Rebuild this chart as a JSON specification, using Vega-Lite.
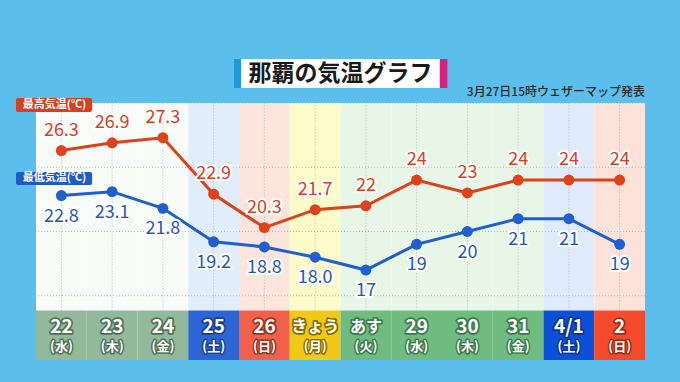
{
  "$schema": "https://vega.github.io/schema/vega-lite/v6.json",
  "width": 609,
  "height": 257,
  "autosize": {"type": "none"},
  "padding": {"left": 36, "top": 103, "right": 35, "bottom": 22},
  "background": "#5cbfeb",
  "view": {"fill": "#ffffff", "stroke": null, "cornerRadius": 6},
  "config": {
    "font": "Noto Sans CJK JP",
    "axis": {"disable": true},
    "legend": {"disable": true}
  },
  "data": {
    "values": [
      {"day": "22", "dow": "(水)", "kind": "過去平日", "hi": 26.3, "lo": 22.8, "hiLabel": "26.3", "loLabel": "22.8"},
      {"day": "23", "dow": "(木)", "kind": "過去平日", "hi": 26.9, "lo": 23.1, "hiLabel": "26.9", "loLabel": "23.1"},
      {"day": "24", "dow": "(金)", "kind": "過去平日", "hi": 27.3, "lo": 21.8, "hiLabel": "27.3", "loLabel": "21.8"},
      {"day": "25", "dow": "(土)", "kind": "過去土曜", "hi": 22.9, "lo": 19.2, "hiLabel": "22.9", "loLabel": "19.2"},
      {"day": "26", "dow": "(日)", "kind": "過去日曜", "hi": 20.3, "lo": 18.8, "hiLabel": "20.3", "loLabel": "18.8"},
      {"day": "きょう", "dow": "(月)", "kind": "今日", "hi": 21.7, "lo": 18.0, "hiLabel": "21.7", "loLabel": "18.0"},
      {"day": "あす", "dow": "(火)", "kind": "平日", "hi": 22, "lo": 17, "hiLabel": "22", "loLabel": "17"},
      {"day": "29", "dow": "(水)", "kind": "平日", "hi": 24, "lo": 19, "hiLabel": "24", "loLabel": "19"},
      {"day": "30", "dow": "(木)", "kind": "平日", "hi": 23, "lo": 20, "hiLabel": "23", "loLabel": "20"},
      {"day": "31", "dow": "(金)", "kind": "平日", "hi": 24, "lo": 21, "hiLabel": "24", "loLabel": "21"},
      {"day": "4/1", "dow": "(土)", "kind": "土曜", "hi": 24, "lo": 21, "hiLabel": "24", "loLabel": "21"},
      {"day": "2", "dow": "(日)", "kind": "日曜", "hi": 24, "lo": 19, "hiLabel": "24", "loLabel": "19"}
    ]
  },
  "resolve": {"scale": {"fill": "independent", "stroke": "independent"}},
  "layer": [
    {
      "mark": {"type": "rect"},
      "encoding": {
        "x": {"field": "day", "type": "nominal", "axis": null,
              "scale": {"type": "band", "domain": ["22", "23", "24", "25", "26", "きょう", "あす", "29", "30", "31", "4/1", "2"], "paddingInner": 0, "paddingOuter": 0}},
        "y": {"datum": 13.85, "type": "quantitative", "axis": null, "scale": {"domain": [10, 30], "zero": false, "nice": false}},
        "y2": {"datum": 30},
        "fill": {"field": "kind", "type": "nominal", "legend": null,
                 "scale": {"domain": ["過去平日", "過去土曜", "過去日曜", "今日", "平日", "土曜", "日曜"],
                           "range": ["#f8fcf8", "#e2edfb", "#fde5de", "#fefbcb", "#e8f6e8", "#dfeafb", "#fde2da"]}}
      }
    },
    {
      "mark": {"type": "rule", "strokeDash": [1, 2], "color": "#b8b8b8", "strokeWidth": 1},
      "encoding": {
        "x": {"field": "day", "type": "nominal"},
        "y": {"datum": 13.85, "type": "quantitative"},
        "y2": {"datum": 30}
      }
    },
    {
      "data": {"values": [{"level": 15}, {"level": 20}, {"level": 25}, {"level": 30}]},
      "mark": {"type": "rule", "strokeDash": [1, 2], "color": "#b8b8b8", "strokeWidth": 1},
      "encoding": {
        "y": {"field": "level", "type": "quantitative"}
      }
    },
    {
      "mark": {"type": "rect"},
      "encoding": {
        "x": {"field": "day", "type": "nominal"},
        "y": {"datum": 10, "type": "quantitative"},
        "y2": {"datum": 13.85},
        "fill": {"field": "kind", "type": "nominal", "legend": null,
                 "scale": {"domain": ["過去平日", "過去土曜", "過去日曜", "今日", "平日", "土曜", "日曜"],
                           "range": ["#93b99b", "#2e65d5", "#f1604b", "#f0c815", "#6fbb80", "#0c50d7", "#f44b2d"]}}
      }
    },
    {
      "mark": {"type": "text", "fontWeight": "bold", "strokeWidth": 3.5, "strokeJoin": "round", "baseline": "middle"},
      "encoding": {
        "x": {"field": "day", "type": "nominal"},
        "y": {"datum": 12.55, "type": "quantitative"},
        "text": {"field": "day"},
        "size": {"condition": {"test": "datum.day === 'きょう' || datum.day === 'あす'", "value": 16}, "value": 19},
        "stroke": {"field": "kind", "type": "nominal", "legend": null,
                   "scale": {"domain": ["過去平日", "過去土曜", "過去日曜", "今日", "平日", "土曜", "日曜"],
                             "range": ["#4f7257", "#1b3f8c", "#9a3325", "#8a6d00", "#3c7a4b", "#0b3391", "#a02a14"]}}
      }
    },
    {
      "mark": {"type": "text", "fontSize": 13, "fontWeight": "bold", "strokeWidth": 3, "strokeJoin": "round", "baseline": "middle"},
      "encoding": {
        "x": {"field": "day", "type": "nominal"},
        "y": {"datum": 11.0, "type": "quantitative"},
        "text": {"field": "dow"},
        "stroke": {"field": "kind", "type": "nominal", "legend": null,
                   "scale": {"domain": ["過去平日", "過去土曜", "過去日曜", "今日", "平日", "土曜", "日曜"],
                             "range": ["#4f7257", "#1b3f8c", "#9a3325", "#8a6d00", "#3c7a4b", "#0b3391", "#a02a14"]}}
      }
    },
    {
      "mark": {"type": "text", "fontWeight": "bold", "fill": "#ffffff", "baseline": "middle"},
      "encoding": {
        "x": {"field": "day", "type": "nominal"},
        "y": {"datum": 12.55, "type": "quantitative"},
        "text": {"field": "day"},
        "size": {"condition": {"test": "datum.day === 'きょう' || datum.day === 'あす'", "value": 16}, "value": 19}
      }
    },
    {
      "mark": {"type": "text", "fontSize": 13, "fontWeight": "bold", "fill": "#ffffff", "baseline": "middle"},
      "encoding": {
        "x": {"field": "day", "type": "nominal"},
        "y": {"datum": 11.0, "type": "quantitative"},
        "text": {"field": "dow"}
      }
    },
    {
      "mark": {"type": "line", "color": "#df4119", "strokeWidth": 3},
      "encoding": {
        "x": {"field": "day", "type": "nominal"},
        "y": {"field": "hi", "type": "quantitative"}
      }
    },
    {
      "mark": {"type": "line", "color": "#1f5fd0", "strokeWidth": 3},
      "encoding": {
        "x": {"field": "day", "type": "nominal"},
        "y": {"field": "lo", "type": "quantitative"}
      }
    },
    {
      "mark": {"type": "point", "filled": true, "size": 120, "color": "#df4119", "opacity": 1},
      "encoding": {
        "x": {"field": "day", "type": "nominal"},
        "y": {"field": "hi", "type": "quantitative"}
      }
    },
    {
      "mark": {"type": "point", "filled": true, "size": 120, "color": "#1f5fd0", "opacity": 1},
      "encoding": {
        "x": {"field": "day", "type": "nominal"},
        "y": {"field": "lo", "type": "quantitative"}
      }
    },
    {
      "mark": {"type": "text", "fontSize": 18, "dy": -20, "baseline": "middle", "stroke": "#ffffff", "strokeWidth": 4, "strokeJoin": "round", "fill": "#ffffff"},
      "encoding": {
        "x": {"field": "day", "type": "nominal"},
        "y": {"field": "hi", "type": "quantitative"},
        "text": {"field": "hiLabel"}
      }
    },
    {
      "mark": {"type": "text", "fontSize": 18, "dy": -20, "baseline": "middle", "fill": "#d8401b"},
      "encoding": {
        "x": {"field": "day", "type": "nominal"},
        "y": {"field": "hi", "type": "quantitative"},
        "text": {"field": "hiLabel"}
      }
    },
    {
      "mark": {"type": "text", "fontSize": 18, "dy": 21, "baseline": "middle", "stroke": "#ffffff", "strokeWidth": 4, "strokeJoin": "round", "fill": "#ffffff"},
      "encoding": {
        "x": {"field": "day", "type": "nominal"},
        "y": {"field": "lo", "type": "quantitative"},
        "text": {"field": "loLabel"}
      }
    },
    {
      "mark": {"type": "text", "fontSize": 18, "dy": 21, "baseline": "middle", "fill": "#1f58c6"},
      "encoding": {
        "x": {"field": "day", "type": "nominal"},
        "y": {"field": "lo", "type": "quantitative"},
        "text": {"field": "loLabel"}
      }
    },
    {
      "data": {"values": [{"series": "最高気温(℃)", "top": 30.39, "bottom": 29.3}, {"series": "最低気温(℃)", "top": 24.63, "bottom": 23.62}]},
      "mark": {"type": "rect", "cornerRadius": 2, "xOffset": -20, "x2Offset": -20},
      "encoding": {
        "x": {"datum": "22", "bandPosition": 0},
        "x2": {"datum": "23"},
        "y": {"field": "top", "type": "quantitative"},
        "y2": {"field": "bottom"},
        "fill": {"field": "series", "type": "nominal", "legend": null,
                 "scale": {"domain": ["最高気温(℃)", "最低気温(℃)"], "range": ["#d9401c", "#1e5ccc"]}}
      }
    },
    {
      "data": {"values": [{"series": "最高気温(℃)", "mid": 29.85}, {"series": "最低気温(℃)", "mid": 24.13}]},
      "mark": {"type": "text", "fontSize": 11, "fontWeight": "bold", "fill": "#ffffff", "baseline": "middle", "dx": -7},
      "encoding": {
        "x": {"datum": "22"},
        "y": {"field": "mid", "type": "quantitative"},
        "text": {"field": "series"}
      }
    },
    {
      "data": {"values": [{"title": "那覇の気温グラフ"}]},
      "mark": {"type": "rect", "fill": "#1e9ad8", "xOffset": -5, "x2Offset": -23},
      "encoding": {
        "x": {"datum": "26", "bandPosition": 0},
        "x2": {"datum": "26"},
        "y": {"datum": 33.42, "type": "quantitative"},
        "y2": {"datum": 31.17}
      }
    },
    {
      "data": {"values": [{"title": "那覇の気温グラフ"}]},
      "mark": {"type": "rect", "fill": "#d8217e", "xOffset": -2, "x2Offset": -20},
      "encoding": {
        "x": {"datum": "30", "bandPosition": 0},
        "x2": {"datum": "30"},
        "y": {"datum": 33.42, "type": "quantitative"},
        "y2": {"datum": 31.17}
      }
    },
    {
      "data": {"values": [{"title": "那覇の気温グラフ"}]},
      "mark": {"type": "rect", "fill": "#ffffff", "xOffset": 2, "x2Offset": 23},
      "encoding": {
        "x": {"datum": "26", "bandPosition": 0},
        "x2": {"datum": "29"},
        "y": {"datum": 33.42, "type": "quantitative"},
        "y2": {"datum": 31.17}
      }
    },
    {
      "data": {"values": [{"title": "那覇の気温グラフ"}]},
      "mark": {"type": "text", "fontSize": 23, "fontWeight": "bold", "fill": "#1a1a1a", "baseline": "middle", "align": "center"},
      "encoding": {
        "x": {"datum": "あす", "bandPosition": 0},
        "y": {"datum": 32.26, "type": "quantitative"},
        "text": {"field": "title"}
      }
    },
    {
      "data": {"values": [{"note": "3月27日15時ウェザーマップ発表"}]},
      "mark": {"type": "text", "fontSize": 12, "fontWeight": 500, "fill": "#2a2a2a", "baseline": "middle", "align": "right"},
      "encoding": {
        "x": {"datum": "2", "bandPosition": 1},
        "y": {"datum": 30.86, "type": "quantitative"},
        "text": {"field": "note"}
      }
    }
  ]
}
